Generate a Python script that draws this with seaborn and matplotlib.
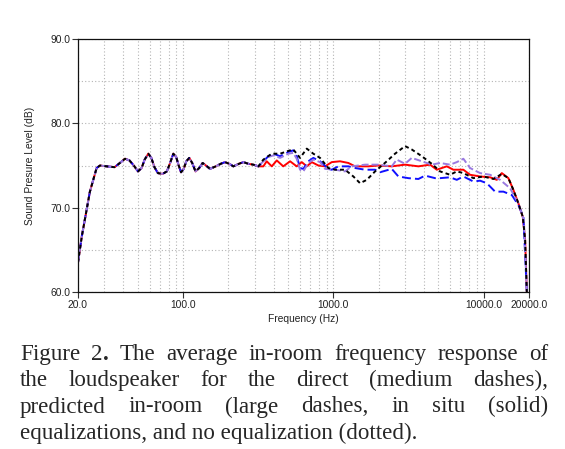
import numpy as np
import pandas as pd
import matplotlib
matplotlib.use("Agg")
import matplotlib.pyplot as plt
from matplotlib.ticker import FixedLocator, NullFormatter
from matplotlib.transforms import IdentityTransform
import seaborn as sns

# shared low-frequency part (all four curves overlap here)
freq_low = [20, 21.2, 24.0, 26.6, 28.0, 31, 35, 38, 41.1, 44, 47, 50.1, 53, 55.5, 58.7,
            61.5, 64.5, 68, 73, 78, 82, 86.1, 90, 93.5, 96.9, 101, 105, 110, 115, 121,
            128, 135, 142, 151, 165, 178, 190, 203, 216, 235, 252, 272, 293, 317]
spl_low = [63.5, 66.6, 71.9, 74.7, 75.0, 74.9, 74.8, 75.3, 75.8, 75.6, 75.0, 74.3, 74.7, 75.7, 76.4,
           75.9, 74.8, 74.1, 74.0, 74.3, 75.3, 76.4, 76.0, 75.0, 74.2, 74.6, 75.5, 75.9, 75.3, 74.3,
           74.7, 75.3, 75.0, 74.6, 74.9, 75.2, 75.4, 75.2, 74.9, 75.2, 75.4, 75.2, 75.1, 74.9]

# in situ equalization (solid, red)
freq_insitu = [342, 360, 389, 420, 464, 515, 570, 616, 665, 718, 794, 880, 975, 1107,
               1257, 1393, 1708, 1991, 2444, 2996, 3674, 4395, 4870, 5678, 6281, 7320,
               8112, 9456, 11022, 12214, 13185, 14588, 15750, 17008, 18192, 18846, 19344]
spl_insitu = [74.9, 75.5, 74.9, 75.6, 74.9, 75.5, 74.9, 75.4, 74.9, 75.4, 75.0, 74.9, 75.4, 75.5,
              75.3, 74.9, 74.9, 75.0, 74.9, 75.1, 74.9, 75.1, 74.5, 74.9, 74.5, 74.5,
              73.9, 73.7, 73.6, 73.3, 74.1, 73.5, 72.1, 70.5, 68.9, 66.2, 60.0]

# predicted in-room equalization (large dashes, blue)
freq_pred = [342, 369, 399, 442, 501, 541, 570, 600, 631, 681, 735, 815, 925, 975, 1079,
             1257, 1393, 1624, 1893, 2043, 2444, 2704, 3151, 3674, 4072, 4745, 5123, 5970,
             6617, 7320, 8534, 9456, 10480, 11900, 13512, 15370, 17008, 18359, 19344]
spl_pred = [75.5, 76.1, 76.4, 76.1, 76.6, 76.8, 76.1, 74.7, 74.6, 75.5, 75.9, 75.5, 74.6, 74.5, 74.9,
            74.9, 74.7, 74.5, 74.5, 74.2, 74.6, 73.7, 73.5, 73.4, 73.8, 73.5, 73.5, 73.6,
            73.3, 73.7, 73.1, 73.2, 72.9, 71.9, 71.9, 71.5, 70.3, 68.9, 60.0]

# direct equalization (medium dashes, purple)
freq_direct = [342, 369, 399, 442, 501, 541, 570, 600, 631, 681, 735, 815, 880, 1026, 1195,
               1324, 1624, 1991, 2444, 2638, 2996, 3320, 3872, 4511, 5123, 5970, 6617, 7320,
               8112, 9456, 11022, 12846, 14975, 17008, 18500, 19344]
spl_direct = [75.5, 76.0, 76.2, 75.9, 76.4, 76.5, 75.8, 74.5, 74.3, 75.3, 75.7, 75.4, 74.6, 74.5, 74.3,
              74.9, 75.1, 75.1, 74.9, 75.7, 75.2, 75.9, 75.5, 75.1, 75.3, 75.1, 75.4, 75.8,
              74.7, 74.1, 73.9, 73.3, 72.3, 70.5, 68.5, 60.0]

# no equalization (dotted, black)
freq_noeq = [342, 389, 442, 515, 541, 600, 665, 735, 815, 925, 1026, 1195, 1357, 1504, 1667,
             1893, 2265, 2570, 2996, 3320, 3872, 4511, 5123, 5970, 6617, 7320, 8534, 9946,
             11595, 13185, 14588, 15750, 17008, 18192, 18846, 19344]
spl_noeq = [75.7, 76.4, 76.4, 76.8, 76.9, 75.9, 77.0, 76.4, 75.9, 74.7, 74.5, 74.5, 73.7, 72.9, 73.3,
            74.3, 75.5, 76.4, 77.3, 76.9, 76.1, 75.2, 74.3, 73.9, 74.3, 74.1, 73.5, 73.7,
            73.4, 74.0, 73.5, 72.1, 70.5, 68.9, 66.2, 60.0]

series = {
    "in situ": (freq_insitu, spl_insitu),
    "predicted": (freq_pred, spl_pred),
    "direct": (freq_direct, spl_direct),
    "none": (freq_noeq, spl_noeq),
}
rows = []
for name, (f, s) in series.items():
    for fi, si in zip(freq_low + f, spl_low + s):
        rows.append({"freq": fi, "spl": si, "eq": name})
df = pd.DataFrame(rows)

x_ticks = [20, 100, 1000, 10000, 20000]
x_labels = ["20.0", "100.0", "1000.0", "10000.0", "20000.0"]
y_ticks = [60, 70, 80, 90]
y_labels = ["60.0", "70.0", "80.0", "90.0"]

caption = [
    "Figure 2. The average in-room frequency response of",
    "the loudspeaker for the direct (medium dashes),",
    "predicted in-room (large dashes, in situ (solid)",
    "equalizations, and no equalization (dotted).",
]

sns.set_style("white")
plt.rcParams["font.family"] = ["Liberation Sans", "DejaVu Sans"]

fig = plt.figure(figsize=(5.65, 4.49), dpi=100)
ax = fig.add_axes([78 / 565, 1 - 292 / 449, 451 / 565, 253 / 449])

palette = {"in situ": "#ff0000", "predicted": "#1010ff", "direct": "#9a7ae0", "none": "#000000"}
dashes = {"in situ": "", "predicted": (4.6, 2.1), "direct": (3.6, 1.5), "none": (2.0, 1.6)}
sns.lineplot(data=df, x="freq", y="spl", hue="eq", style="eq",
             hue_order=list(series), style_order=list(series),
             palette=palette, dashes=dashes, sort=False, estimator=None,
             linewidth=1.4, legend=False, ax=ax)

ax.set_xscale("log")
ax.set_xlim(20, 20000)
ax.set_ylim(60, 90)
ax.xaxis.set_major_locator(FixedLocator(x_ticks))
ax.set_xticklabels(x_labels)
minor_x = [m * d for d in (10, 100, 1000) for m in range(2, 10)]
ax.xaxis.set_minor_locator(FixedLocator(minor_x))
ax.xaxis.set_minor_formatter(NullFormatter())
ax.yaxis.set_major_locator(FixedLocator(y_ticks))
ax.set_yticklabels(y_labels)
ax.yaxis.set_minor_locator(FixedLocator([65, 75, 85]))

ax.grid(which="both", color="#b4b4b4", linestyle=(0, (1, 2)), linewidth=0.8)
ax.tick_params(which="major", direction="out", length=4, width=0.8, color="#333333",
               labelsize=7.4, labelcolor="#222222", pad=1.5,
               bottom=True, left=True)
ax.tick_params(which="minor", length=0)
for sp in ax.spines.values():
    sp.set_color("#111111")
    sp.set_linewidth(0.9)

ax.set_xlabel("Frequency (Hz)", fontsize=7.4, color="#222222", labelpad=3)
ax.set_ylabel("Sound Presure Level (dB)", fontsize=7.4, color="#222222", labelpad=11)

# justified caption in a serif face
serif = "Liberation Serif"
size = 16.6
left_px, right_px = 20, 548
baselines = [360, 386.3, 412.5, 438.5]
r = fig.canvas.get_renderer()


def text_width(s, weight="normal"):
    t = fig.text(0, 0, s, fontsize=size, family=serif, weight=weight, transform=IdentityTransform())
    w = t.get_window_extent(r).width
    t.remove()
    return w


def word_segments(w):
    if w == "2.":
        return [("2", "normal"), (".", "bold")]
    return [(w, "normal")]


for i, (line, yb) in enumerate(zip(caption, baselines)):
    y_disp = 449 - yb
    if i == len(caption) - 1:
        fig.text(left_px, y_disp, line, fontsize=size, family=serif, va="baseline",
                 transform=IdentityTransform())
        continue
    words = [word_segments(w) for w in line.split(" ")]
    widths = [[text_width(s, wt) for s, wt in segs] for segs in words]
    total = sum(sum(ws) for ws in widths)
    gap = (right_px - left_px - total) / (len(words) - 1)
    x = left_px
    for segs, ws in zip(words, widths):
        for (s, wt), w in zip(segs, ws):
            fig.text(x, y_disp, s, fontsize=size, family=serif, weight=wt, va="baseline",
                     transform=IdentityTransform())
            x += w
        x += gap

fig.savefig("out.png", dpi=100)
